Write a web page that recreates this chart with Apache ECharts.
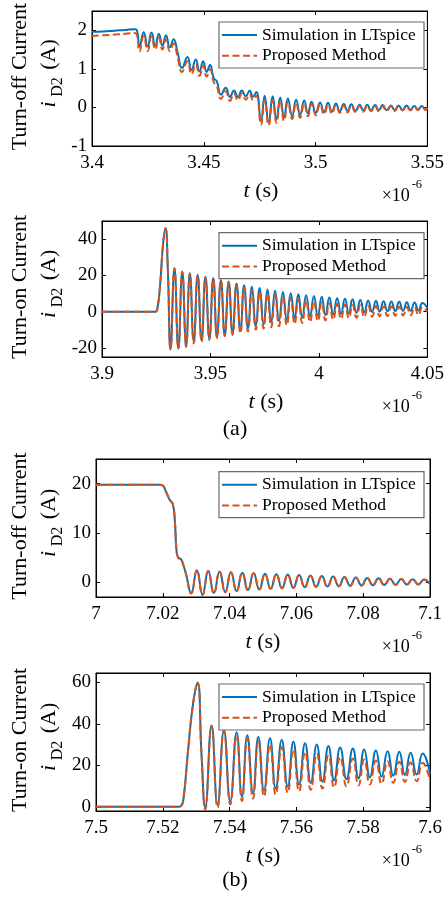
<!DOCTYPE html>
<html><head><meta charset="utf-8">
<script src="https://cdn.jsdelivr.net/npm/echarts@6/dist/echarts.min.js"></script>
<style>html,body{margin:0;padding:0;background:#fff}#c{width:447px;height:899px}</style>
</head><body><div id="c"></div>
<script>
const seriesNames = ['Simulation in LTspice', 'Proposed Method'];

// (a) turn-off, time in 1e-6 s
const offA_t = [3.400,3.405,3.410,3.415,3.419,3.4200,
 3.4213,3.4231,3.4249,3.4266,3.4283,3.4299,3.4315,3.4331,3.4348,3.4365,
 3.4382,3.4403,3.4427,3.4445,3.4464,3.4481,3.4497,3.4513,3.4528,
 3.4545,3.4558,3.4577,3.4598,3.4617,3.4635,3.4653,3.4670,3.4688,3.4705,3.4720,3.4735,
 3.4756,3.4772,3.4790,3.4808,3.4825,3.4842,3.4859,3.4876,3.4895,3.4913,3.4931,3.4949,3.4966,3.4982,3.5001,3.5020,3.5038,3.5056,3.5073,3.5091,3.5108,3.5126,3.5143,3.5160,3.5178,3.5197,3.5214,3.5231,3.5248,3.5266,3.5283,3.5300,3.5318,3.5337,3.5354,3.5371,3.5389,3.5407,3.5424,3.5441,3.5458,3.5475,3.5492,3.5500];
const offA_sim = [1.96,1.97,1.99,2.01,2.03,2.01,
 1.58,1.95,1.58,1.94,1.60,1.91,1.60,1.87,1.56,1.77,
 1.45,1.02,1.31,0.97,1.24,0.93,1.20,0.92,1.10,
 0.75,0.68,0.33,0.51,0.27,0.44,0.27,0.44,0.29,0.43,0.28,0.40,
 -0.36,0.30,-0.38,0.29,-0.31,0.26,-0.26,0.23,-0.22,0.20,-0.19,0.18,-0.16,0.15,-0.14,0.13,-0.12,0.12,-0.11,0.10,-0.10,0.09,-0.09,0.08,-0.09,0.07,-0.08,0.07,-0.08,0.06,-0.07,0.06,-0.07,0.05,-0.07,0.05,-0.06,0.05,-0.06,0.04,-0.06,0.04,-0.06,0.00];
const offA_prop = [1.85,1.87,1.89,1.91,1.93,1.90,
 1.45,1.85,1.46,1.84,1.50,1.81,1.50,1.77,1.46,1.66,
 1.33,0.92,1.20,0.86,1.12,0.82,1.09,0.80,0.99,
 0.65,0.56,0.22,0.42,0.17,0.36,0.18,0.36,0.20,0.35,0.19,0.30,
 -0.45,0.20,-0.46,0.19,-0.40,0.17,-0.35,0.14,-0.30,0.12,-0.27,0.10,-0.23,0.09,-0.20,0.08,-0.18,0.07,-0.16,0.06,-0.14,0.05,-0.13,0.05,-0.12,0.04,-0.11,0.04,-0.10,0.03,-0.10,0.03,-0.09,0.03,-0.09,0.03,-0.08,0.02,-0.08,0.02,-0.07,0.02,-0.07,0.01];
const offA_xTicks = [3.4, 3.45, 3.5, 3.55];
const offA_yTicks = [-1, 0, 1, 2];

// (a) turn-on
const onA_t = [3.900,3.920,3.9245,3.9255,3.9268,3.9282,3.9293,3.9303,
 3.9316,3.9334,3.9352,3.9370,3.9388,3.9405,3.9423,3.9441,3.9459,3.9477,3.9495,3.9513,3.9530,3.9548,3.9566,3.9584,3.9602,3.9620,3.9638,3.9655,3.9673,3.9691,3.9709,3.9727,3.9745,3.9763,3.9780,3.9798,3.9816,3.9834,3.9852,3.9870,3.9888,3.9905,3.9923,3.9941,3.9959,3.9977,3.9995,4.0013,4.0030,4.0048,4.0066,4.0084,4.0102,4.0120,4.0138,4.0155,4.0173,4.0191,4.0209,4.0227,4.0245,4.0263,4.0280,4.0298,4.0316,4.0334,4.0352,4.0370,4.0388,4.0405,4.0423,4.0441,4.0459,4.0477,4.0500];
const onA_sim = [0,0,0,1.5,15,38,46,25,
 -20.8,24,-20.5,22.2,-19,21.2,-16.5,20.3,-16,19.3,-15,18.5,-14,17.5,-13,16.7,-11.8,15.5,-10.5,14.6,-9.2,13.8,-8,13,-7,12.2,-6,11.5,-5.2,10.8,-4.5,10.2,-3.8,9.6,-3.2,9.1,-2.7,8.6,-2.3,8.2,-1.9,7.8,-1.5,7.4,-1.2,7.1,-0.9,6.8,-0.6,6.5,-0.4,6.2,-0.2,6,0,5.8,0.2,5.6,0.3,5.4,0.4,5.2,0.5,5,0.6,4.8,2.0];
const onA_prop = [0,0,0,1.5,15,38,46,25,
 -20.5,24,-20,22,-19.5,21,-17.5,20,-16.5,19,-15.5,18,-14.5,17,-13.5,16,-12.8,14.5,-12,13.2,-11,12,-10,11,-9.3,10,-8.6,9,-8,8.2,-7.4,7.5,-6.8,6.8,-6.2,6.2,-5.7,5.6,-5.2,5.1,-4.8,4.7,-4.4,4.3,-4,4,-3.6,3.7,-3.3,3.5,-3,3.3,-2.8,3.1,-2.6,2.9,-2.4,2.8,-2.2,2.7,-2.1,2.6,-2,2.5,-1.9,2.4,0.0];
const onA_xTicks = [3.9, 3.95, 4, 4.05];
const onA_yTicks = [-20, 0, 20, 40];

// (b) turn-off
const offB_t = [7.000,7.010,7.0190,7.0200,7.0210,7.0220,7.0230,7.0236,7.0241,7.0246,7.0255,7.0262,7.0270,
 7.0285,7.0302,7.0319,7.0336,7.0353,7.0370,7.0387,7.0404,7.0421,7.0438,7.0455,7.0472,7.0489,7.0506,7.0523,7.0540,7.0557,7.0574,7.0591,7.0608,7.0625,7.0642,7.0659,7.0676,7.0693,7.0710,7.0727,7.0744,7.0761,7.0778,7.0795,7.0812,7.0829,7.0846,7.0863,7.0880,7.0897,7.0914,7.0931,7.0948,7.0965,7.0982,7.1000];
const offB_sim = [19.8,19.8,19.8,19.6,18.3,16.8,15.8,12.5,6.5,5.0,4.6,3.4,1.5,
 -2.2,2.4,-2.5,2.3,-2.2,2.15,-2.0,2.0,-1.8,1.9,-1.6,1.8,-1.45,1.7,-1.3,1.6,-1.2,1.55,-1.1,1.45,-1.0,1.35,-0.9,1.25,-0.85,1.15,-0.8,1.05,-0.7,0.95,-0.65,0.85,-0.6,0.8,-0.55,0.7,-0.5,0.65,-0.45,0.6,-0.45,0.55,-0.4];
const offB_prop = [19.8,19.8,19.8,19.6,18.3,16.8,15.8,12.5,6.5,5.0,4.6,3.4,1.5,
 -2.3,2.45,-2.6,2.3,-2.3,2.15,-2.05,2.0,-1.85,1.9,-1.65,1.8,-1.5,1.7,-1.35,1.6,-1.25,1.5,-1.15,1.4,-1.05,1.3,-0.95,1.2,-0.9,1.1,-0.85,1.0,-0.75,0.9,-0.7,0.85,-0.65,0.75,-0.6,0.7,-0.55,0.65,-0.5,0.6,-0.45,0.5,-0.45];
const offB_xTicks = [7, 7.02, 7.04, 7.06, 7.08, 7.1];
const offB_yTicks = [0, 10, 20];

// (b) turn-on
const onB_t = [7.500,7.520,7.5245,7.5255,7.5262,7.5275,7.5290,7.5304,7.5316,
 7.5327,7.5346,7.5364,7.5383,7.5402,7.5421,7.5437,7.5453,7.5470,7.5486,7.5503,7.5521,7.5538,7.5556,7.5574,7.5591,7.5608,7.5626,7.5643,7.5661,7.5678,7.5696,7.5713,7.5731,7.5750,7.5769,7.5786,7.5803,7.5820,7.5838,7.5855,7.5873,7.5890,7.5908,7.5925,7.5942,7.5960,7.5978,7.6000];
const onB_sim = [0,0,0,0.5,4,26,49,59.8,25,
 -0.3,39.2,0.8,37,2.6,36,4.8,34.5,6.6,33.6,7.8,33,8.9,32.2,9.8,31.4,10.8,30.7,11.5,30,12.2,29.3,12.8,28.6,13.3,28.1,13.8,27.6,14.2,27.2,14.6,26.8,15,26.5,15.3,26.1,15.6,25.7,16];
const onB_prop = [0,0,0,0.5,4,26,49,59.8,25,
 -1.3,39,-0.3,36.5,1.2,34.5,2.8,33,4,31.5,5,30,6,28.8,6.8,27.6,7.5,26.5,8.2,25.6,8.8,24.8,9.4,24,9.9,23.3,10.4,22.8,10.8,22.3,11.2,22,11.6,21.7,12,21.4,12.3,21.2,12.7];
const onB_xTicks = [7.5, 7.52, 7.54, 7.56, 7.58, 7.6];
const onB_yTicks = [0, 20, 40, 60];

const FONT = '"Liberation Serif", "Times New Roman", serif';
const BLUE = '#0072BD', ORANGE = '#D95319';
const RIGHT = 430;
const panels = [
  {t: offA_t, sim: offA_sim, prop: offA_prop, xt: offA_xTicks, yt: offA_yTicks, xr: [3.4, 3.55], yr: [-1, 2.5], left: 92, top: 11, h: 135, name: 'Turn-off Current', leg: 22},
  {t: onA_t, sim: onA_sim, prop: onA_prop, xt: onA_xTicks, yt: onA_yTicks, xr: [3.9, 4.05], yr: [-25, 50], left: 102, top: 221, h: 136, name: 'Turn-on Current', leg: 232.7},
  {t: offB_t, sim: offB_sim, prop: offB_prop, xt: offB_xTicks, yt: offB_yTicks, xr: [7, 7.1], yr: [-3, 25], left: 96, top: 459, h: 138, name: 'Turn-off Current', leg: 471.7},
  {t: onB_t, sim: onB_sim, prop: onB_prop, xt: onB_xTicks, yt: onB_yTicks, xr: [7.5, 7.6], yr: [-2, 64.5], left: 96, top: 673, h: 138, name: 'Turn-on Current', leg: 684}
];

const grid = [], xAxis = [], yAxis = [], series = [], legend = [], graphic = [];
const fmt = v => String(+(+v).toFixed(3));
const tick = vals => ({show: true, inside: true, length: 4, customValues: vals, lineStyle: {color: '#000', width: 1}});
const aLine = {show: true, onZero: false, lineStyle: {color: '#000', width: 1}};
function txt(x, y, text, size, opts) {
  return Object.assign({type: 'text', x: x, y: y, z: 50, silent: true,
    style: Object.assign({text: text, fontSize: size, fontFamily: FONT, fill: '#000', align: 'center', verticalAlign: 'middle'}, (opts && opts.style) || {})},
    (opts && opts.el) || {});
}

panels.forEach((p, i) => {
  grid.push({left: p.left, top: p.top, width: RIGHT - p.left, height: p.h, show: true, borderColor: '#000', borderWidth: 1, backgroundColor: '#fff'});
  xAxis.push({type: 'value', gridIndex: i, min: p.xr[0], max: p.xr[1], position: 'bottom', axisLine: aLine, axisTick: tick(p.xt),
    axisLabel: {customValues: p.xt, formatter: fmt, fontFamily: FONT, fontSize: 19, color: '#000', margin: 8}, splitLine: {show: false}});
  xAxis.push({type: 'value', gridIndex: i, min: p.xr[0], max: p.xr[1], position: 'top', axisLine: aLine, axisTick: tick(p.xt),
    axisLabel: {show: false}, splitLine: {show: false}});
  yAxis.push({type: 'value', gridIndex: i, min: p.yr[0], max: p.yr[1], position: 'left', axisLine: aLine, axisTick: tick(p.yt),
    axisLabel: {customValues: p.yt, formatter: fmt, fontFamily: FONT, fontSize: 19, color: '#000', margin: 5}, splitLine: {show: false}});
  yAxis.push({type: 'value', gridIndex: i, min: p.yr[0], max: p.yr[1], position: 'right', axisLine: aLine, axisTick: tick(p.yt),
    axisLabel: {show: false}, splitLine: {show: false}});
  series.push({type: 'line', name: seriesNames[0], xAxisIndex: 2 * i, yAxisIndex: 2 * i,
    data: p.t.map((x, k) => [x, p.sim[k]]), smooth: 0.5, symbol: 'none', showSymbol: false, clip: true, z: 2,
    lineStyle: {color: BLUE, width: 2}, itemStyle: {color: BLUE}});
  series.push({type: 'line', name: seriesNames[1], xAxisIndex: 2 * i, yAxisIndex: 2 * i,
    data: p.t.map((x, k) => [x, p.prop[k]]), smooth: 0.5, symbol: 'none', showSymbol: false, clip: true, z: 3,
    lineStyle: {color: ORANGE, width: 2, type: [7, 3.5]}, itemStyle: {color: ORANGE}});
  legend.push({data: seriesNames, orient: 'vertical', left: 221, top: p.leg + 4, padding: 0, itemWidth: 35, itemHeight: 18, itemGap: 2.7,
    selectedMode: false, z: 200, itemStyle: {opacity: 0}, lineStyle: {width: 2},
    textStyle: {fontFamily: FONT, fontSize: 17.5, color: '#000'}});
  graphic.push({type: 'rect', z: 100, silent: true, shape: {x: 219, y: p.leg, width: 205, height: 46},
    style: {fill: '#fff', stroke: '#6a6a6a', lineWidth: 1.2}});
  const bottom = p.top + p.h, c = p.top + p.h / 2, cx = (p.left + RIGHT) / 2;
  graphic.push(txt(20, c - 2, p.name, 22, {el: {rotation: Math.PI / 2}}));
  graphic.push(txt(49, c + 26, 'i', 22, {el: {rotation: Math.PI / 2}, style: {fontStyle: 'italic'}}));
  graphic.push(txt(58, c + 8.5, 'D2', 16, {el: {rotation: Math.PI / 2}}));
  graphic.push(txt(49, c - 24, '(A)', 22, {el: {rotation: Math.PI / 2}}));
  graphic.push(txt(cx, bottom + 45, '{it|t} (s)', 22, {style: {rich: {it: {fontStyle: 'italic', fontSize: 22, fontFamily: FONT}}}}));
  graphic.push(txt(381.7, bottom + 50.6, '\u00d710', 18, {style: {align: 'left'}}));
  graphic.push(txt(411.7, bottom + 38.5, '-6', 12.5, {style: {align: 'left'}}));
});
graphic.push(txt(235, 429, '(a)', 22));
graphic.push(txt(235, 880, '(b)', 22));

const chart = echarts.init(document.getElementById('c'), null, {renderer: 'canvas'});
chart.setOption({animation: false, backgroundColor: '#fff', textStyle: {fontFamily: FONT},
  grid, xAxis, yAxis, series, legend, graphic});
</script></body></html>
